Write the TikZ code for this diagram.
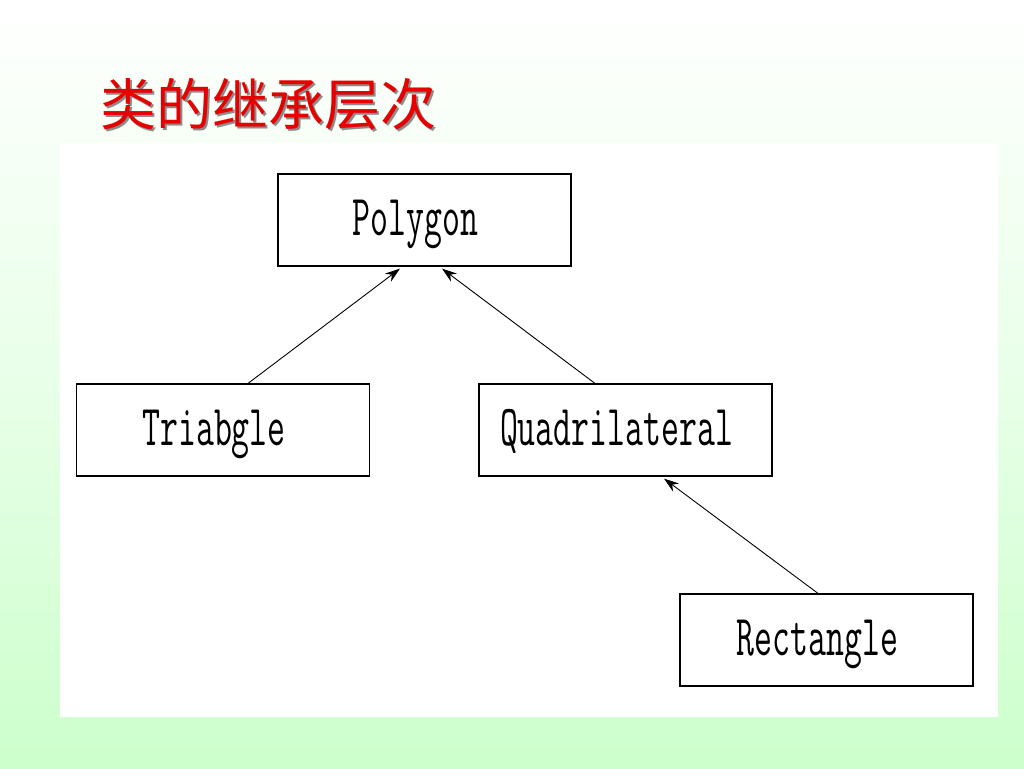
\documentclass[tikz,border=0pt]{standalone}
\usepackage{fontspec}
\newfontfamily\cjk{Noto Sans CJK SC}
\usetikzlibrary{arrows.meta}
\definecolor{bggreen}{RGB}{204,255,204}
\definecolor{titlered}{RGB}{230,0,0}
\tikzset{
  box/.style={draw=black, line width=1.2pt, fill=white, minimum width=293pt, minimum height=92pt, inner sep=0pt},
  conn/.style={draw=black, line width=0.9pt},
}
\newcommand{\lbltxt}[1]{\raisebox{-15pt}[0pt][0pt]{\fontsize{58}{62}\selectfont\ttfamily\scalebox{0.6}[1]{#1}}\kern18pt}
\begin{document}
\begin{tikzpicture}[x=1pt,y=-1pt]
\useasboundingbox (0,0) rectangle (1024,768);
\shade[top color=white, bottom color=bggreen, middle color={bggreen!45!white}] (0,0) rectangle (1024,768);
\fill[white] (60,143) rectangle (998,717);
% title
\node[text=black!45, font=\cjk\fontsize{56}{62}\selectfont] (titleshadow) at (270,106) {类的继承层次};
\node[text=titlered, font=\cjk\fontsize{56}{62}\selectfont] (title) at (268,104) {类的继承层次};
% boxes
\node[box] (poly) at (424.5,220) {\lbltxt{Polygon}};
\node[box] (tri) at (223,430) {\lbltxt{Triabgle}};
\node[box] (quad) at (625.5,430) {\lbltxt{Quadrilateral}};
\node[box] (rect) at (826.5,640) {\lbltxt{Rectangle}};
% connectors
\draw[conn, -{Stealth[length=15pt, width=10pt]}] ([xshift=25pt]tri.north) -- ([xshift=-24.5pt,yshift=-2pt]poly.south);
\draw[conn, -{Stealth[length=15pt, width=10pt]}] ([xshift=-30.5pt]quad.north) -- ([xshift=17.5pt,yshift=-2pt]poly.south);
\draw[conn, -{Stealth[length=15pt, width=10pt]}] ([xshift=-8.5pt]rect.north) -- ([xshift=38.5pt,yshift=-2pt]quad.south);
\end{tikzpicture}
\end{document}
